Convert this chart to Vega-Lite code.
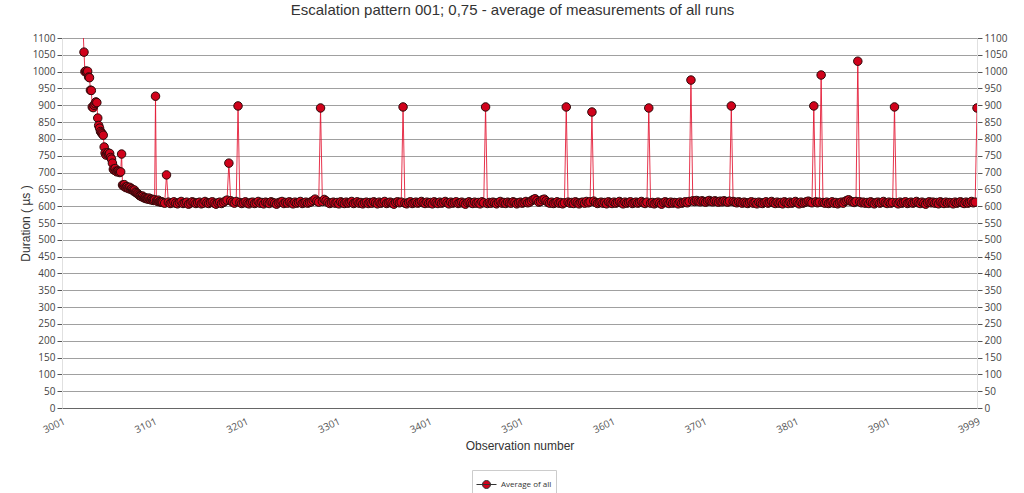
{
"$schema":"https://vega.github.io/schema/vega-lite/v6.json",
"width":915,"height":370,
"autosize":"none",
"padding":{"left":62,"top":38,"right":47,"bottom":85},
"background":"white",
"config":{"font":"Liberation Sans","view":{"stroke":null}},
"title":{"text":"Escalation pattern 001; 0,75 - average of measurements of all runs","font":"Liberation Sans","fontSize":15,"fontWeight":"normal","color":"#333333","anchor":"middle","dx":-7,"offset":15},
"data":{"values":[
{"n":3001,"v":1820},{"n":3002,"v":1760},{"n":3003,"v":1705},{"n":3004,"v":1660},{"n":3005,"v":1610},{"n":3006,"v":1570},{"n":3007,"v":1530},{"n":3008,"v":1490},{"n":3009,"v":1455},{"n":3010,"v":1420},
{"n":3011,"v":1390},{"n":3012,"v":1360},{"n":3013,"v":1330},{"n":3014,"v":1305},{"n":3015,"v":1280},{"n":3016,"v":1260},{"n":3017,"v":1240},{"n":3018,"v":1220},{"n":3019,"v":1200},{"n":3020,"v":1185},
{"n":3021,"v":1170},{"n":3022,"v":1155},{"n":3023,"v":1140},{"n":3024,"v":1125},{"n":3025,"v":1058},{"n":3026,"v":1000},{"n":3027,"v":1002},{"n":3028,"v":999},{"n":3029,"v":1001},{"n":3030,"v":984},
{"n":3031,"v":982},{"n":3032,"v":945},{"n":3033,"v":944},{"n":3034,"v":895},{"n":3035,"v":893},{"n":3036,"v":900},{"n":3037,"v":905},{"n":3038,"v":910},{"n":3039,"v":908},{"n":3040,"v":862},
{"n":3041,"v":840},{"n":3042,"v":832},{"n":3043,"v":822},{"n":3044,"v":818},{"n":3045,"v":815},{"n":3046,"v":811},{"n":3047,"v":776},{"n":3048,"v":758},{"n":3049,"v":752},{"n":3050,"v":756},
{"n":3051,"v":759},{"n":3052,"v":754},{"n":3053,"v":757},{"n":3054,"v":745},{"n":3055,"v":740},{"n":3056,"v":728},{"n":3057,"v":710},{"n":3058,"v":707},{"n":3059,"v":712},{"n":3060,"v":704},
{"n":3061,"v":702},{"n":3062,"v":705},{"n":3063,"v":703},{"n":3064,"v":700},{"n":3065,"v":702},{"n":3066,"v":755},{"n":3067,"v":663},{"n":3068,"v":660},{"n":3069,"v":664},{"n":3070,"v":657},
{"n":3071,"v":655},{"n":3072,"v":658},{"n":3073,"v":654},{"n":3074,"v":652},{"n":3075,"v":656},{"n":3076,"v":650},{"n":3077,"v":652},{"n":3078,"v":648},{"n":3079,"v":645},{"n":3080,"v":648},
{"n":3081,"v":642},{"n":3082,"v":640},{"n":3083,"v":638},{"n":3084,"v":636},{"n":3085,"v":633},{"n":3086,"v":631},{"n":3087,"v":630},{"n":3088,"v":628},{"n":3089,"v":630},{"n":3090,"v":626},
{"n":3091,"v":624},{"n":3092,"v":625},{"n":3093,"v":622},{"n":3094,"v":623},{"n":3095,"v":621},{"n":3096,"v":624},{"n":3097,"v":620},{"n":3098,"v":619},{"n":3099,"v":621},{"n":3100,"v":618},
{"n":3101,"v":617},{"n":3102,"v":619},{"n":3103,"v":927},{"n":3104,"v":616},{"n":3105,"v":615},{"n":3106,"v":618},{"n":3107,"v":613},{"n":3108,"v":614},{"n":3109,"v":612},{"n":3110,"v":613},
{"n":3111,"v":611},{"n":3113,"v":609},{"n":3115,"v":693},{"n":3117,"v":612},{"n":3119,"v":608},{"n":3121,"v":610},{"n":3123,"v":613},{"n":3125,"v":609},{"n":3127,"v":607},{"n":3129,"v":611},
{"n":3131,"v":614},{"n":3133,"v":608},{"n":3135,"v":610},{"n":3137,"v":612},{"n":3139,"v":606},{"n":3141,"v":609},{"n":3143,"v":613},{"n":3145,"v":611},{"n":3147,"v":608},{"n":3149,"v":610},
{"n":3151,"v":612},{"n":3153,"v":607},{"n":3155,"v":609},{"n":3157,"v":614},{"n":3159,"v":610},{"n":3161,"v":608},{"n":3163,"v":611},{"n":3165,"v":613},{"n":3167,"v":609},{"n":3169,"v":606},
{"n":3171,"v":610},{"n":3173,"v":612},{"n":3175,"v":608},{"n":3177,"v":611},{"n":3179,"v":615},{"n":3181,"v":618},{"n":3183,"v":728},{"n":3185,"v":616},{"n":3187,"v":612},{"n":3189,"v":609},
{"n":3191,"v":614},{"n":3193,"v":898},{"n":3195,"v":611},{"n":3197,"v":608},{"n":3199,"v":610},{"n":3201,"v":613},{"n":3203,"v":609},{"n":3205,"v":607},{"n":3207,"v":611},{"n":3209,"v":612},
{"n":3211,"v":608},{"n":3213,"v":610},{"n":3215,"v":614},{"n":3217,"v":609},{"n":3219,"v":611},{"n":3221,"v":607},{"n":3223,"v":612},{"n":3225,"v":610},{"n":3227,"v":608},{"n":3229,"v":613},
{"n":3231,"v":611},{"n":3233,"v":609},{"n":3235,"v":606},{"n":3237,"v":610},{"n":3239,"v":612},{"n":3241,"v":614},{"n":3243,"v":608},{"n":3245,"v":611},{"n":3247,"v":609},{"n":3249,"v":613},
{"n":3251,"v":610},{"n":3253,"v":607},{"n":3255,"v":612},{"n":3257,"v":609},{"n":3259,"v":611},{"n":3261,"v":614},{"n":3263,"v":608},{"n":3265,"v":610},{"n":3267,"v":612},{"n":3269,"v":609},
{"n":3271,"v":611},{"n":3273,"v":613},{"n":3275,"v":617},{"n":3277,"v":621},{"n":3279,"v":615},{"n":3281,"v":612},{"n":3283,"v":892},{"n":3285,"v":614},{"n":3287,"v":620},{"n":3289,"v":616},
{"n":3291,"v":611},{"n":3293,"v":608},{"n":3295,"v":610},{"n":3297,"v":612},{"n":3299,"v":609},{"n":3301,"v":611},{"n":3303,"v":607},{"n":3305,"v":613},{"n":3307,"v":610},{"n":3309,"v":608},
{"n":3311,"v":612},{"n":3313,"v":609},{"n":3315,"v":611},{"n":3317,"v":614},{"n":3319,"v":608},{"n":3321,"v":610},{"n":3323,"v":613},{"n":3325,"v":609},{"n":3327,"v":611},{"n":3329,"v":607},
{"n":3331,"v":610},{"n":3333,"v":612},{"n":3335,"v":608},{"n":3337,"v":611},{"n":3339,"v":609},{"n":3341,"v":613},{"n":3343,"v":610},{"n":3345,"v":607},{"n":3347,"v":612},{"n":3349,"v":609},
{"n":3351,"v":611},{"n":3353,"v":614},{"n":3355,"v":608},{"n":3357,"v":610},{"n":3359,"v":612},{"n":3361,"v":609},{"n":3363,"v":606},{"n":3365,"v":611},{"n":3367,"v":613},{"n":3369,"v":610},
{"n":3371,"v":612},{"n":3373,"v":895},{"n":3375,"v":609},{"n":3377,"v":607},{"n":3379,"v":611},{"n":3381,"v":613},{"n":3383,"v":608},{"n":3385,"v":610},{"n":3387,"v":612},{"n":3389,"v":609},
{"n":3391,"v":611},{"n":3393,"v":614},{"n":3395,"v":610},{"n":3397,"v":608},{"n":3399,"v":612},{"n":3401,"v":609},{"n":3403,"v":611},{"n":3405,"v":607},{"n":3407,"v":613},{"n":3409,"v":610},
{"n":3411,"v":608},{"n":3413,"v":612},{"n":3415,"v":609},{"n":3417,"v":611},{"n":3419,"v":614},{"n":3421,"v":610},{"n":3423,"v":607},{"n":3425,"v":612},{"n":3427,"v":609},{"n":3429,"v":611},
{"n":3431,"v":613},{"n":3433,"v":608},{"n":3435,"v":610},{"n":3437,"v":612},{"n":3439,"v":609},{"n":3441,"v":606},{"n":3443,"v":611},{"n":3445,"v":613},{"n":3447,"v":610},{"n":3449,"v":608},
{"n":3451,"v":612},{"n":3453,"v":609},{"n":3455,"v":611},{"n":3457,"v":607},{"n":3459,"v":613},{"n":3461,"v":610},{"n":3463,"v":895},{"n":3465,"v":608},{"n":3467,"v":611},{"n":3469,"v":609},
{"n":3471,"v":612},{"n":3473,"v":610},{"n":3475,"v":607},{"n":3477,"v":611},{"n":3479,"v":614},{"n":3481,"v":609},{"n":3483,"v":611},{"n":3485,"v":608},{"n":3487,"v":612},{"n":3489,"v":610},
{"n":3491,"v":609},{"n":3493,"v":613},{"n":3495,"v":611},{"n":3497,"v":607},{"n":3499,"v":610},{"n":3501,"v":612},{"n":3503,"v":609},{"n":3505,"v":611},{"n":3507,"v":614},{"n":3509,"v":610},
{"n":3511,"v":612},{"n":3513,"v":616},{"n":3515,"v":620},{"n":3517,"v":622},{"n":3519,"v":617},{"n":3521,"v":612},{"n":3523,"v":614},{"n":3525,"v":619},{"n":3527,"v":621},{"n":3529,"v":616},
{"n":3531,"v":611},{"n":3533,"v":609},{"n":3535,"v":612},{"n":3537,"v":608},{"n":3539,"v":610},{"n":3541,"v":613},{"n":3543,"v":609},{"n":3545,"v":611},{"n":3547,"v":607},{"n":3549,"v":610},
{"n":3551,"v":895},{"n":3553,"v":612},{"n":3555,"v":609},{"n":3557,"v":611},{"n":3559,"v":608},{"n":3561,"v":613},{"n":3563,"v":610},{"n":3565,"v":607},{"n":3567,"v":611},{"n":3569,"v":612},
{"n":3571,"v":609},{"n":3573,"v":614},{"n":3575,"v":610},{"n":3577,"v":613},{"n":3579,"v":880},{"n":3581,"v":615},{"n":3583,"v":611},{"n":3585,"v":608},{"n":3587,"v":610},{"n":3589,"v":612},
{"n":3591,"v":609},{"n":3593,"v":611},{"n":3595,"v":607},{"n":3597,"v":613},{"n":3599,"v":610},{"n":3601,"v":608},{"n":3603,"v":612},{"n":3605,"v":609},{"n":3607,"v":611},{"n":3609,"v":614},
{"n":3611,"v":610},{"n":3613,"v":607},{"n":3615,"v":612},{"n":3617,"v":609},{"n":3619,"v":611},{"n":3621,"v":613},{"n":3623,"v":608},{"n":3625,"v":610},{"n":3627,"v":612},{"n":3629,"v":609},
{"n":3631,"v":611},{"n":3633,"v":614},{"n":3635,"v":610},{"n":3637,"v":608},{"n":3639,"v":612},{"n":3641,"v":892},{"n":3643,"v":609},{"n":3645,"v":611},{"n":3647,"v":607},{"n":3649,"v":610},
{"n":3651,"v":612},{"n":3653,"v":609},{"n":3655,"v":606},{"n":3657,"v":611},{"n":3659,"v":613},{"n":3661,"v":610},{"n":3663,"v":608},{"n":3665,"v":612},{"n":3667,"v":609},{"n":3669,"v":611},
{"n":3671,"v":610},{"n":3673,"v":607},{"n":3675,"v":612},{"n":3677,"v":609},{"n":3679,"v":611},{"n":3681,"v":613},{"n":3683,"v":610},{"n":3685,"v":614},{"n":3687,"v":975},{"n":3689,"v":616},
{"n":3691,"v":614},{"n":3693,"v":617},{"n":3695,"v":615},{"n":3697,"v":613},{"n":3699,"v":616},{"n":3701,"v":614},{"n":3703,"v":612},{"n":3705,"v":615},{"n":3707,"v":617},{"n":3709,"v":614},
{"n":3711,"v":613},{"n":3713,"v":616},{"n":3715,"v":614},{"n":3717,"v":612},{"n":3719,"v":615},{"n":3721,"v":613},{"n":3723,"v":616},{"n":3725,"v":614},{"n":3727,"v":612},{"n":3729,"v":615},
{"n":3731,"v":898},{"n":3733,"v":614},{"n":3735,"v":612},{"n":3737,"v":610},{"n":3739,"v":613},{"n":3741,"v":611},{"n":3743,"v":609},{"n":3745,"v":612},{"n":3747,"v":610},{"n":3749,"v":608},
{"n":3751,"v":611},{"n":3753,"v":613},{"n":3755,"v":609},{"n":3757,"v":611},{"n":3759,"v":607},{"n":3761,"v":612},{"n":3763,"v":610},{"n":3765,"v":608},{"n":3767,"v":611},{"n":3769,"v":613},
{"n":3771,"v":609},{"n":3773,"v":611},{"n":3775,"v":614},{"n":3777,"v":610},{"n":3779,"v":608},{"n":3781,"v":612},{"n":3783,"v":609},{"n":3785,"v":611},{"n":3787,"v":607},{"n":3789,"v":613},
{"n":3791,"v":610},{"n":3793,"v":608},{"n":3795,"v":612},{"n":3797,"v":609},{"n":3799,"v":611},{"n":3801,"v":614},{"n":3803,"v":610},{"n":3805,"v":607},{"n":3807,"v":612},{"n":3809,"v":609},
{"n":3811,"v":611},{"n":3813,"v":613},{"n":3815,"v":615},{"n":3817,"v":612},{"n":3819,"v":610},{"n":3821,"v":898},{"n":3823,"v":613},{"n":3825,"v":610},{"n":3827,"v":612},{"n":3829,"v":990},
{"n":3831,"v":611},{"n":3833,"v":609},{"n":3835,"v":612},{"n":3837,"v":608},{"n":3839,"v":610},{"n":3841,"v":613},{"n":3843,"v":609},{"n":3845,"v":611},{"n":3847,"v":607},{"n":3849,"v":610},
{"n":3851,"v":612},{"n":3853,"v":609},{"n":3855,"v":614},{"n":3857,"v":617},{"n":3859,"v":619},{"n":3861,"v":615},{"n":3863,"v":613},{"n":3865,"v":611},{"n":3867,"v":614},{"n":3869,"v":1031},
{"n":3871,"v":613},{"n":3873,"v":610},{"n":3875,"v":612},{"n":3877,"v":609},{"n":3879,"v":611},{"n":3881,"v":608},{"n":3883,"v":613},{"n":3885,"v":610},{"n":3887,"v":607},{"n":3889,"v":611},
{"n":3891,"v":612},{"n":3893,"v":609},{"n":3895,"v":611},{"n":3897,"v":614},{"n":3899,"v":610},{"n":3901,"v":608},{"n":3903,"v":612},{"n":3905,"v":609},{"n":3907,"v":611},{"n":3909,"v":895},
{"n":3911,"v":610},{"n":3913,"v":607},{"n":3915,"v":612},{"n":3917,"v":609},{"n":3919,"v":611},{"n":3921,"v":613},{"n":3923,"v":608},{"n":3925,"v":610},{"n":3927,"v":612},{"n":3929,"v":609},
{"n":3931,"v":611},{"n":3933,"v":614},{"n":3935,"v":610},{"n":3937,"v":608},{"n":3939,"v":612},{"n":3941,"v":609},{"n":3943,"v":606},{"n":3945,"v":611},{"n":3947,"v":613},{"n":3949,"v":610},
{"n":3951,"v":612},{"n":3953,"v":609},{"n":3955,"v":611},{"n":3957,"v":607},{"n":3959,"v":613},{"n":3961,"v":610},{"n":3963,"v":608},{"n":3965,"v":612},{"n":3967,"v":609},{"n":3969,"v":611},
{"n":3971,"v":610},{"n":3973,"v":607},{"n":3975,"v":612},{"n":3977,"v":609},{"n":3979,"v":611},{"n":3981,"v":613},{"n":3983,"v":610},{"n":3985,"v":608},{"n":3987,"v":612},{"n":3989,"v":609},
{"n":3991,"v":611},{"n":3993,"v":614},{"n":3995,"v":610},{"n":3997,"v":612},{"n":3999,"v":892}
]},
"encoding":{
"x":{"field":"n","type":"quantitative","scale":{"domain":[3001,3999],"nice":false,"zero":false},
"axis":{"values":[3001,3101,3201,3301,3401,3501,3601,3701,3801,3901,3999],"format":"d","labelAngle":-25,"labelAlign":"right","labelBaseline":"top","labelFont":"Open Sans","labelFontSize":10,"labelColor":"#555555","labelPadding":8,"ticks":false,"grid":false,"domainColor":"#666666","title":"Observation number","titleFont":"Liberation Sans","titleFontSize":12,"titleFontWeight":"normal","titleColor":"#333333","titlePadding":6}}
},
"layer":[
{"mark":{"type":"line","color":"#e3102e","strokeWidth":1,"opacity":0.85,"clip":true},
"encoding":{"y":{"field":"v","type":"quantitative","scale":{"domain":[0,1100],"nice":false,"zero":true},
"axis":{"orient":"left","format":"d","values":[0,50,100,150,200,250,300,350,400,450,500,550,600,650,700,750,800,850,900,950,1000,1050,1100],"grid":true,"gridColor":"#a0a0a0","gridWidth":1,"domainColor":"#e0e0e0","tickColor":"#555555","tickSize":5,"labelFont":"Open Sans","labelFontSize":10,"labelColor":"#444444","labelPadding":2,"title":"Duration ( µs )","titleFont":"Liberation Sans","titleFontSize":12,"titleFontWeight":"normal","titleColor":"#333333","titlePadding":0}}}},
{"mark":{"type":"point","filled":true,"stroke":"#2b0a0a","strokeWidth":1,"size":72,"opacity":1,"clip":true},
"encoding":{"y":{"field":"v","type":"quantitative","scale":{"domain":[0,1100],"nice":false,"zero":true},
"axis":{"orient":"right","format":"d","values":[0,50,100,150,200,250,300,350,400,450,500,550,600,650,700,750,800,850,900,950,1000,1050,1100],"grid":false,"domainColor":"#e0e0e0","tickColor":"#555555","tickSize":5,"labelFont":"Open Sans","labelFontSize":10,"labelColor":"#444444","labelPadding":2,"title":null}},
"color":{"datum":"Average of all","type":"nominal","scale":{"range":["#d0021b"]},
"legend":{"title":null,"orient":"none","legendX":410,"legendY":432,"padding":4,"strokeColor":"#cccccc","symbolType":"M-1,0L1,0M-0.4,0A0.4,0.4,0,1,1,0.4,0A0.4,0.4,0,1,1,-0.4,0Z","symbolSize":400,"symbolStrokeColor":"#333333","symbolStrokeWidth":1,"labelFont":"Open Sans","labelFontSize":8,"labelColor":"#333333"}}}}
],
"resolve":{"axis":{"y":"independent"}}
}
